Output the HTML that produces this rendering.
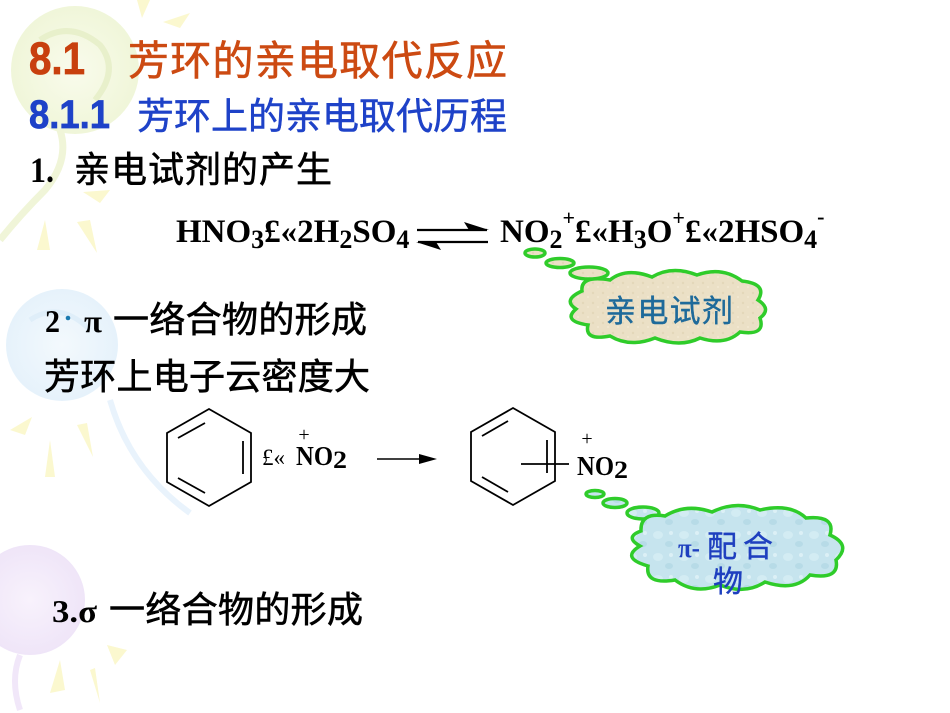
<!DOCTYPE html>
<html>
<head>
<meta charset="utf-8">
<style>
html,body{margin:0;padding:0;background:#fff;}
svg{display:block;}
.cjk{font-family:"Liberation Sans","Noto Sans CJK SC",sans-serif;}
.ser{font-family:"Liberation Serif","Noto Serif CJK SC",serif;}
.sb{font-family:"Liberation Serif",serif;font-weight:bold;}
</style>
</head>
<body>
<svg width="950" height="713" viewBox="0 0 950 713" xmlns="http://www.w3.org/2000/svg">
  <defs>
    <radialGradient id="gG" cx="0.5" cy="0.5" r="0.5">
      <stop offset="0" stop-color="#f9fbec"/>
      <stop offset="1" stop-color="#f0f6d9"/>
    </radialGradient>
    <radialGradient id="gB" cx="0.5" cy="0.5" r="0.5">
      <stop offset="0" stop-color="#f3f9fd"/>
      <stop offset="1" stop-color="#e6f2fb"/>
    </radialGradient>
    <radialGradient id="gP" cx="0.5" cy="0.5" r="0.5">
      <stop offset="0" stop-color="#f8f2fc"/>
      <stop offset="1" stop-color="#efe5f8"/>
    </radialGradient>
    <pattern id="drops" width="26" height="22" patternUnits="userSpaceOnUse">
      <rect width="26" height="22" fill="#c6e4ee"/>
      <ellipse cx="8" cy="7" rx="5" ry="4" fill="#d3ecf3"/>
      <ellipse cx="19" cy="16" rx="4" ry="3" fill="#b7dbe7"/>
      <circle cx="21" cy="5" r="2" fill="#dcf0f6"/>
    </pattern>
    <pattern id="sand" width="10" height="10" patternUnits="userSpaceOnUse">
      <rect width="10" height="10" fill="#ebe0c6"/>
      <circle cx="3" cy="3" r="1.2" fill="#e3d7b9"/>
      <circle cx="8" cy="7" r="1" fill="#f1e8d2"/>
    </pattern>
  </defs>

  <!-- background decorations -->
  <g>
    <circle cx="75" cy="70" r="64" fill="url(#gG)"/>
    <path d="M40 40 Q70 20 100 45 Q120 70 95 100" fill="none" stroke="#e8f0cb" stroke-width="6"/>
    <path d="M60 130 Q70 160 45 190 Q20 215 0 240" fill="none" stroke="#f0f5d8" stroke-width="7"/>
    <polygon points="137,0 150,0 142,18" fill="#fbf8cf"/>
    <polygon points="163,22 190,13 180,28" fill="#fbf8cf"/>
    <polygon points="83,192 110,190 100,203" fill="#fbf8cf"/>
    <polygon points="37,250 45,220 50,250" fill="#fbf8cf"/>
    <polygon points="77,222 90,220 97,253" fill="#fbf8cf"/>

    <circle cx="62" cy="345" r="56" fill="url(#gB)"/>
    <path d="M30 320 Q60 300 90 330" fill="none" stroke="#dfeef9" stroke-width="5"/>
    <path d="M110 400 Q130 470 190 513" fill="none" stroke="#e9f3fc" stroke-width="6"/>
    <polygon points="10,430 32,417 25,435" fill="#fbf8cf"/>
    <polygon points="45,477 50,440 55,477" fill="#fbf8cf"/>
    <polygon points="77,425 87,423 93,457" fill="#fbf8cf"/>

    <circle cx="30" cy="600" r="55" fill="url(#gP)"/>
    <path d="M20 655 Q10 680 20 710" fill="none" stroke="#f1e7f9" stroke-width="6"/>
    <polygon points="107,645 127,650 115,665" fill="#fbf8cf"/>
    <polygon points="50,693 60,660 65,690" fill="#fbf8cf"/>
    <polygon points="90,670 95,668 100,703" fill="#fbf8cf"/>
  </g>

  <!-- Title -->
  <text x="29" y="74" font-family="Liberation Sans, sans-serif" font-weight="bold" font-size="45" fill="#c8400e" stroke="#c8400e" stroke-width="0.8" textLength="56" lengthAdjust="spacingAndGlyphs">8.1</text>
  <text x="128" y="75" class="cjk" font-size="41" fill="#cc4a12" stroke="#cc4a12" stroke-width="0.6" textLength="379" lengthAdjust="spacing">芳环的亲电取代反应</text>

  <!-- Subtitle -->
  <text x="29" y="128" font-family="Liberation Sans, sans-serif" font-weight="bold" font-size="40" fill="#1e42c8" stroke="#1e42c8" stroke-width="0.7" textLength="81" lengthAdjust="spacingAndGlyphs">8.1.1</text>
  <text x="137" y="129" class="cjk" font-size="37" fill="#1e42c8" stroke="#1e42c8" stroke-width="0.5" textLength="370" lengthAdjust="spacing">芳环上的亲电取代历程</text>

  <!-- 1. -->
  <text x="30" y="182" class="sb" font-size="36" fill="#000" textLength="24" lengthAdjust="spacingAndGlyphs">1.</text>
  <text x="74" y="182" class="cjk" font-size="36" fill="#000" stroke="#000" stroke-width="0.6" textLength="258" lengthAdjust="spacing">亲电试剂的产生</text>

  <!-- Equation left -->
  <text x="176" y="242" class="sb" font-size="33" fill="#000">HNO<tspan font-size="26" dy="6">3</tspan><tspan font-size="33" dy="-6">£«2H</tspan><tspan font-size="26" dy="6">2</tspan><tspan font-size="33" dy="-6">SO</tspan><tspan font-size="26" dy="6">4</tspan></text>

  <!-- equilibrium arrows -->
  <line x1="417" y1="230" x2="487" y2="230" stroke="#000" stroke-width="2.2"/>
  <polygon points="489,230 464,222 469,230" fill="#000"/>
  <line x1="418" y1="242" x2="488" y2="242" stroke="#000" stroke-width="2.2"/>
  <polygon points="416,242 441,250 436,242" fill="#000"/>

  <!-- Equation right -->
  <text x="500" y="242" class="sb" font-size="33" fill="#000">NO<tspan font-size="26" dy="6">2</tspan><tspan font-size="22" dy="-23">+</tspan><tspan font-size="33" dy="17">£«H</tspan><tspan font-size="26" dy="6">3</tspan><tspan font-size="33" dy="-6">O</tspan><tspan font-size="22" dy="-17">+</tspan><tspan font-size="33" dy="17">£«2HSO</tspan><tspan font-size="26" dy="6">4</tspan><tspan font-size="22" dy="-24">-</tspan></text>

  <!-- Cloud 1 -->
  <g stroke="#2fcc2a" stroke-width="3.5" fill="url(#sand)">
    <ellipse cx="535" cy="253" rx="10" ry="4"/>
    <ellipse cx="560" cy="263" rx="14" ry="4.5"/>
    <ellipse cx="589" cy="273" rx="19" ry="6"/>
    <path d="M576 309 Q562 300 582 291 Q580 275 610 280 Q626 267 652 277 Q672 265 697 275 Q722 266 742 281 Q768 284 758 300 Q772 309 760 318 Q766 336 740 332 Q725 346 700 338 Q680 348 655 338 Q630 348 610 336 Q584 341 588 325 Q562 321 576 309 Z"/>
  </g>
  <text x="605" y="322" class="cjk" font-size="31" fill="#1e6a9a" stroke="#1e6a9a" stroke-width="0.4" textLength="128" lengthAdjust="spacing">亲电试剂</text>

  <!-- 2. pi complex -->
  <text x="45" y="332" class="sb" font-size="32" fill="#000" textLength="15" lengthAdjust="spacingAndGlyphs">2</text>
  <circle cx="68" cy="318" r="2.3" fill="#1a7ab0"/>
  <text x="84" y="332" class="sb" font-size="32" fill="#000" textLength="18" lengthAdjust="spacingAndGlyphs">π</text>
  <text x="113" y="332" class="cjk" font-size="36" fill="#000" stroke="#000" stroke-width="0.6" textLength="254" lengthAdjust="spacing">一络合物的形成</text>

  <text x="44" y="389" class="cjk" font-size="36" fill="#000" stroke="#000" stroke-width="0.6" textLength="326" lengthAdjust="spacing">芳环上电子云密度大</text>

  <!-- Benzene 1 -->
  <g stroke="#000" stroke-width="1.8" fill="none">
    <polygon points="209,409 251,433 251,482 209,506 167,482 167,433"/>
    <line x1="178" y1="438" x2="205" y2="423"/>
    <line x1="243" y1="441" x2="243" y2="474"/>
    <line x1="178" y1="478" x2="205" y2="493"/>
  </g>
  <text x="262" y="465" class="ser" font-size="23" fill="#000">£«</text>
  <text x="304" y="441" class="ser" font-size="20" fill="#000" text-anchor="middle">+</text>
  <text x="296" y="465" class="sb" font-size="27" fill="#000" textLength="37" lengthAdjust="spacingAndGlyphs">NO</text>
  <text x="333" y="468" class="sb" font-size="25" fill="#000" textLength="14" lengthAdjust="spacingAndGlyphs">2</text>

  <!-- arrow -->
  <line x1="377" y1="459" x2="422" y2="459" stroke="#000" stroke-width="1.6"/>
  <polygon points="419,454 437,459 419,464" fill="#000"/>

  <!-- Benzene 2 -->
  <g stroke="#000" stroke-width="1.8" fill="none">
    <polygon points="513,408 555,432 555,481 513,505 471,481 471,432"/>
    <line x1="482" y1="436" x2="508" y2="421"/>
    <line x1="547" y1="440" x2="547" y2="473"/>
    <line x1="482" y1="477" x2="508" y2="492"/>
    <line x1="521" y1="464" x2="569" y2="464"/>
  </g>
  <text x="587" y="445" class="ser" font-size="20" fill="#000" text-anchor="middle">+</text>
  <text x="577" y="475" class="sb" font-size="27" fill="#000" textLength="37" lengthAdjust="spacingAndGlyphs">NO</text>
  <text x="614" y="478" class="sb" font-size="25" fill="#000" textLength="14" lengthAdjust="spacingAndGlyphs">2</text>

  <!-- Cloud 2 -->
  <g stroke="#2fcc2a" stroke-width="3.5" fill="url(#drops)">
    <ellipse cx="595" cy="494" rx="9" ry="3.5"/>
    <ellipse cx="615" cy="503" rx="12" ry="4.5"/>
    <ellipse cx="643" cy="513" rx="16" ry="6"/>
    <path d="M641 531 Q640 512 665 516 Q686 503 712 512 Q736 500 760 510 Q790 503 806 518 Q836 515 830 535 Q852 545 836 560 Q840 580 810 575 Q795 592 765 582 Q745 595 720 585 Q695 595 675 580 Q645 585 648 566 Q620 558 640 546 Q624 537 641 531 Z"/>
  </g>
  <text x="678" y="557" class="sb" font-size="27" fill="#1e3fbf" textLength="22" lengthAdjust="spacingAndGlyphs">π-</text>
  <text x="707" y="557" class="cjk" font-size="30" fill="#1e3fbf" stroke="#1e3fbf" stroke-width="0.4" textLength="66" lengthAdjust="spacing">配合</text>
  <text x="713" y="592" class="cjk" font-size="30" fill="#1e3fbf" stroke="#1e3fbf" stroke-width="0.4">物</text>

  <!-- 3. sigma complex -->
  <text x="52" y="622" class="sb" font-size="32" fill="#000" textLength="45" lengthAdjust="spacingAndGlyphs">3.σ</text>
  <text x="109" y="622" class="cjk" font-size="36" fill="#000" stroke="#000" stroke-width="0.6" textLength="254" lengthAdjust="spacing">一络合物的形成</text>
</svg>
</body>
</html>
